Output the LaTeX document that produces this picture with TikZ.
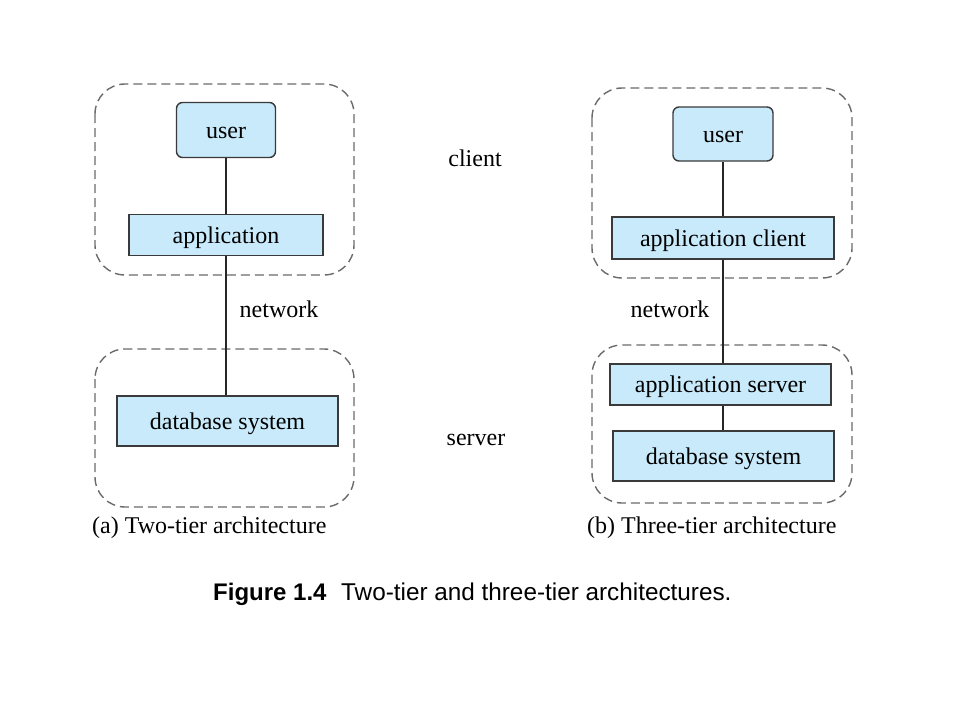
\documentclass[tikz,border=0pt]{standalone}
\usepackage{fontspec}
\setmainfont{Liberation Serif}
\newfontfamily\capfont{Liberation Sans}
\definecolor{boxfill}{HTML}{C8EAFB}
\definecolor{boxline}{HTML}{3A3A3A}
\definecolor{dashline}{HTML}{6A6A6A}
\begin{document}
\begin{tikzpicture}[x=1pt,y=-1pt,
  box/.style={draw=boxline,fill=boxfill,line width=1.4pt,inner sep=0pt,
    text height=20pt,text depth=4pt,
    font=\fontsize{24}{28}\selectfont},
  ubox/.style={box,rounded corners=6pt},
  group/.style={draw=dashline,line width=1.4pt,dash pattern=on 9pt off 5pt,rounded corners=30pt},
  conn/.style={draw=black!85,line width=1.5pt},
  lbl/.style={inner sep=0pt,font=\fontsize{24}{28}\selectfont}]
\useasboundingbox (0,0) rectangle (960,720);
% containers
\draw[group] (95,84) rectangle (354,275);
\draw[group] (95,349) rectangle (354,507);
\draw[group] (592,88) rectangle (852,278);
\draw[group] (592,345) rectangle (852,503);
% left
\node[ubox,minimum width=99pt,minimum height=55pt] (userL) at (226,130) {user};
\node[box,minimum width=194pt,minimum height=41pt] (appL) at (226,235) {application};
\node[box,minimum width=221pt,minimum height=50pt] (dbL) at (227.5,421) {database system};
\draw[conn] (userL.south) -- (appL.north);
\draw[conn] (appL.south) -- (appL.south |- dbL.north);
% right
\node[ubox,minimum width=100pt,minimum height=54pt] (userR) at (723,134) {user};
\node[box,minimum width=222pt,minimum height=42pt] (appC) at (723,238) {application client};
\node[box,minimum width=221pt,minimum height=41pt] (appS) at (720.5,384.5) {application server};
\node[box,minimum width=221pt,minimum height=50pt] (dbR) at (723.5,456) {database system};
\draw[conn] (userR.south) -- (appC.north);
\draw[conn] (appC.south) -- (appC.south |- appS.north);
\coordinate (sR) at (appC.south |- appS.south);
\draw[conn] (sR) -- (sR |- dbR.north);
% labels
\node[lbl] (client) at (475,158) {client};
\node[lbl] (server) at (476,440) {server};
\node[lbl] (netL) at (279,309) {network};
\node[lbl] (netR) at (670,309) {network};
\node[lbl,anchor=west] (capA) at (92,528) {(a) Two-tier architecture};
\node[lbl,anchor=west] (capB) at (587,528) {(b) Three-tier architecture};
\node[inner sep=0pt,anchor=base west,font=\capfont\fontsize{24}{28}\selectfont\bfseries] (figno) at (213,600) {Figure 1.4};
\node[inner sep=0pt,anchor=base west,font=\capfont\fontsize{24.3}{28}\selectfont] (figcap) at (341,600) {Two-tier and three-tier architectures.};
\end{tikzpicture}
\end{document}
